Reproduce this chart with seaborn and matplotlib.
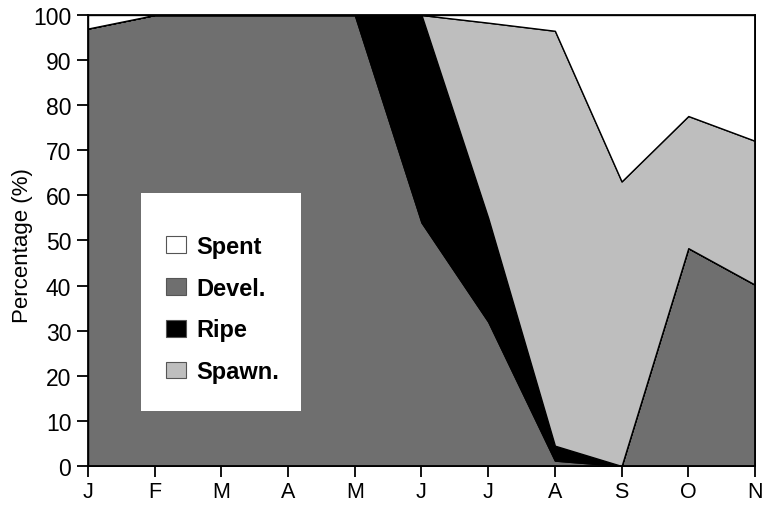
import numpy as np
import pandas as pd
import matplotlib
matplotlib.use("Agg")
import matplotlib.pyplot as plt
import seaborn as sns
from matplotlib.patches import Rectangle, Patch

# ---- data (percent of samples per stage) ----
months = ["J", "F", "M", "A", "M", "J", "J", "A", "S", "O", "N"]
devel = [97.0, 100.0, 100.0, 100.0, 100.0, 54.0, 32.0, 1.2, 0.0, 48.3, 40.2]
ripe = [0.0, 0.0, 0.0, 0.0, 0.0, 46.0, 23.0, 3.3, 0.0, 0.0, 0.0]
spawn = [0.0, 0.0, 0.0, 0.0, 0.0, 0.0, 43.3, 92.0, 63.1, 29.3, 31.9]
spent = [3.0, 0.0, 0.0, 0.0, 0.0, 0.0, 1.7, 3.5, 36.9, 22.4, 27.9]

stage_names = ["Devel.", "Ripe", "Spawn.", "Spent"]
stage_colors = ["#6f6f6f", "#000000", "#bebebe", "#ffffff"]
legend_order = ["Spent", "Devel.", "Ripe", "Spawn."]
yticks = list(range(0, 101, 10))

df = pd.DataFrame({"month": months, "Devel.": devel, "Ripe": ripe,
                   "Spawn.": spawn, "Spent": spent})

sns.set_theme(style="ticks")
plt.rcParams["font.family"] = ["Liberation Sans", "DejaVu Sans"]
plt.rcParams["text.color"] = "black"
plt.rcParams["axes.labelcolor"] = "black"

fig = plt.figure(figsize=(7.7, 5.06), dpi=100)
ax = fig.add_axes([0.1143, 0.0771, 0.8662, 0.8913])

x = np.arange(len(months))
ax.stackplot(x, [df[s].values for s in stage_names], colors=stage_colors,
             edgecolor="black", linewidth=1.0)

ax.set_xlim(0, len(months) - 1)
ax.set_ylim(0, 100)
ax.set_xticks(x)
ax.set_xticklabels(months)
ax.set_yticks(yticks)
ax.tick_params(axis="both", direction="out", length=8, width=1.3,
               color="black", labelcolor="black")
ax.tick_params(axis="y", pad=4, labelsize=16.5)
ax.tick_params(axis="x", pad=2.5, labelsize=15.5)
for sp in ax.spines.values():
    sp.set_visible(True)
    sp.set_linewidth(1.3)
    sp.set_color("black")
ax.set_ylabel("Percentage (%)", fontsize=16, color="black")
ax.yaxis.set_label_coords(-0.083, 0.49)

# legend box
ax.add_patch(Rectangle((0.0795, 0.122), 0.2395, 0.483, transform=ax.transAxes,
                       facecolor="white", edgecolor="none", zorder=5))
color_map = dict(zip(stage_names, stage_colors))
handles = [Patch(facecolor=color_map[n], edgecolor="#555555", linewidth=0.8)
           for n in legend_order]
leg = ax.legend(handles, legend_order, loc="upper left",
                bbox_to_anchor=(0.117, 0.513), frameon=False,
                prop={"family": "Liberation Sans", "weight": "bold", "size": 17},
                handlelength=0.85, handleheight=0.72, handletextpad=0.45,
                labelspacing=0.80, borderpad=0.0, borderaxespad=0.0)
for t in leg.get_texts():
    t.set_color("black")
leg.set_zorder(6)

fig.savefig("out.png", dpi=100)
